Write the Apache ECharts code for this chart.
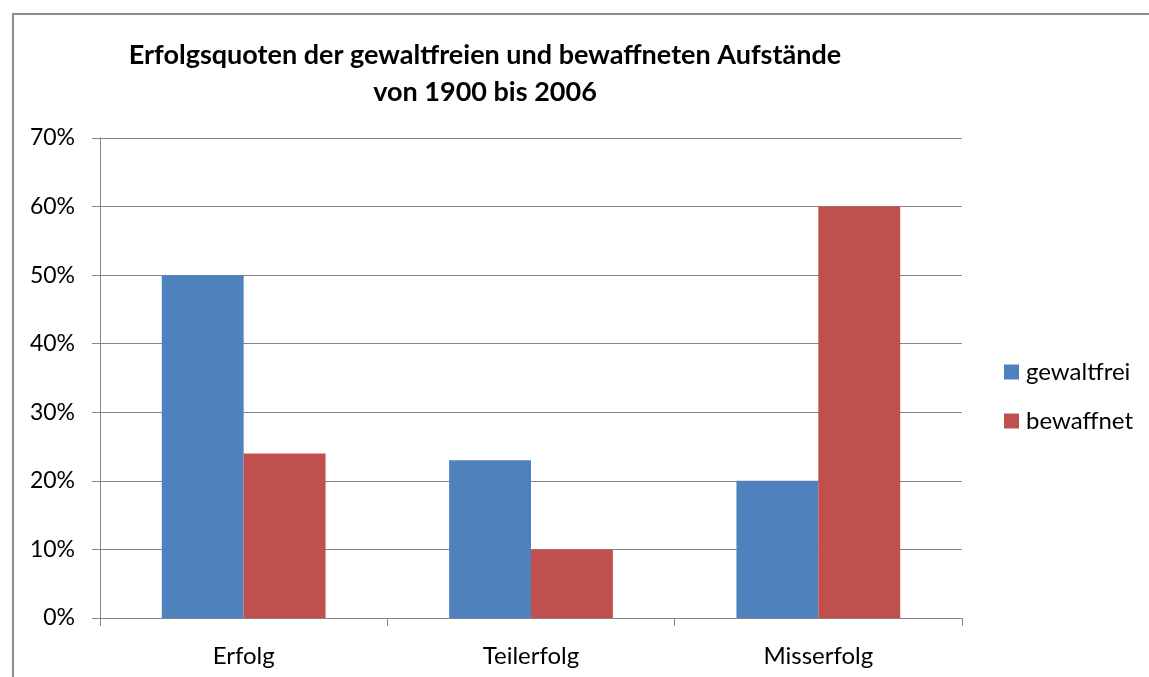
<!DOCTYPE html>
<html>
<head>
<meta charset="utf-8">
<script src="https://cdn.jsdelivr.net/npm/echarts@6/dist/echarts.min.js"></script>
<style>
  html, body { margin: 0; padding: 0; background: #fff; }
  #frame { position: absolute; left: 12px; top: 13px; width: 1150px; height: 680px; border-left: 2px solid #8c8c8c; border-top: 2px solid #8c8c8c; box-sizing: border-box; }
  #myChart { width: 1149px; height: 677px; position: absolute; left: 0; top: 0; }
</style>
</head>
<body>
<div id="frame"></div>
<div id="myChart"></div>
<script>
// Daten
const categories = ["Erfolg", "Teilerfolg", "Misserfolg"];
const gewaltfrei = [50, 23, 20];
const bewaffnet = [24, 10, 60];
const titleLines = ["Erfolgsquoten der gewaltfreien und bewaffneten Aufstände", "von 1900 bis 2006"];

const font = "Lato, 'Open Sans', sans-serif";
let myChart = echarts.init(document.getElementById("myChart"));
myChart.setOption({
  animation: false,
  title: {
    text: titleLines.join("\n"),
    left: 480,
    top: 32,
    textAlign: "center",
    textStyle: { fontFamily: font, fontWeight: "bold", fontSize: 27, color: "#000", lineHeight: 37 }
  },
  legend: {
    orient: "vertical",
    left: 999,
    top: 355,
    itemWidth: 15,
    itemHeight: 15,
    itemGap: 25,
    icon: "rect",
    textStyle: { fontFamily: font, fontSize: 24, color: "#000", padding: [0, 0, 0, 2] },
    data: ["gewaltfrei", "bewaffnet"]
  },
  grid: { left: 100, right: 187, top: 138, bottom: 59, containLabel: false },
  xAxis: {
    type: "category",
    data: categories,
    axisLine: { lineStyle: { color: "#868686", width: 1 } },
    axisTick: { show: true, length: 8, lineStyle: { color: "#868686" } },
    axisLabel: { fontFamily: font, fontSize: 24, color: "#000", margin: 26 }
  },
  yAxis: {
    type: "value",
    min: 0,
    max: 70,
    interval: 10,
    axisLine: { show: true, lineStyle: { color: "#868686" } },
    axisTick: { show: true, length: 8, lineStyle: { color: "#868686" } },
    splitLine: { lineStyle: { color: "#868686", width: 1 } },
    axisLabel: { fontFamily: font, fontSize: 23, color: "#000", margin: 25, formatter: "{value}%" }
  },
  series: [
    {
      name: "gewaltfrei",
      type: "bar",
      data: gewaltfrei,
      barGap: "0%",
      barCategoryGap: "43%",
      itemStyle: { color: "#4f81bd" }
    },
    {
      name: "bewaffnet",
      type: "bar",
      data: bewaffnet,
      barGap: "0%",
      barCategoryGap: "43%",
      itemStyle: { color: "#c0504d" }
    }
  ]
});
</script>
</body>
</html>
